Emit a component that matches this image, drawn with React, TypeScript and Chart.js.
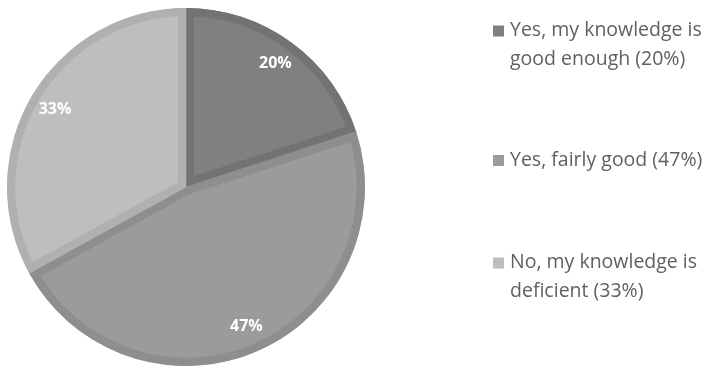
import React, { useEffect, useRef } from "react";
import { Chart, registerables } from "chart.js";

Chart.register(...registerables);

const categories = [
  ["Yes, my knowledge is", "good enough (20%)"],
  ["Yes, fairly good (47%)"],
  ["No, my knowledge is", "deficient (33%)"],
];
const values = [20, 47, 33];
const valueLabels = ["20%", "47%", "33%"];
const fillColors = ["#808080", "#9b9b9b", "#bebebe"];
const borderColors = ["#737373", "#8e8e8e", "#b0b0b0"];

const sliceLabels = {
  id: "sliceLabels",
  afterDatasetsDraw(chart: any) {
    const ctx = chart.ctx;
    const meta = chart.getDatasetMeta(0);
    ctx.save();
    ctx.font = "bold 16px 'Open Sans'";
    ctx.fillStyle = "#ffffff";
    ctx.textAlign = "center";
    ctx.textBaseline = "middle";
    meta.data.forEach((arc: any, i: number) => {
      const p = arc.getProps(["x", "y", "startAngle", "endAngle", "outerRadius"], true);
      const mid = (p.startAngle + p.endAngle) / 2;
      const r = p.outerRadius * 0.85;
      ctx.fillText(valueLabels[i], p.x + Math.cos(mid) * r, p.y + Math.sin(mid) * r);
    });
    ctx.restore();
  },
};

const sideLegend = {
  id: "sideLegend",
  afterDraw(chart: any) {
    const ctx = chart.ctx;
    ctx.save();
    ctx.font = "19.5px 'Open Sans'";
    ctx.textBaseline = "middle";
    ctx.textAlign = "left";
    const x0 = 493;
    const tx = 510;
    const lineH = 29;
    const centers = [45, 160, 277];
    categories.forEach((lines, i) => {
      const top = centers[i] - ((lines.length - 1) * lineH) / 2;
      ctx.fillStyle = fillColors[i];
      ctx.fillRect(x0, top - 5, 11, 11);
      ctx.fillStyle = "#606060";
      lines.forEach((ln, j) => ctx.fillText(ln, tx, top + j * lineH));
    });
    ctx.restore();
  },
};

export default function App() {
  const ref = useRef<HTMLCanvasElement | null>(null);
  useEffect(() => {
    if (!ref.current) return;
    const chart = new Chart(ref.current, {
      type: "pie",
      data: {
        labels: categories.map((c) => c.join(" ")),
        datasets: [
          {
            data: values,
            backgroundColor: fillColors,
            borderColor: borderColors,
            borderWidth: 8,
            borderAlign: "inner",
          },
        ],
      },
      options: {
        animation: false,
        responsive: false,
        rotation: 0,
        layout: { padding: { left: 7, top: 8, right: 347, bottom: 7 } },
        plugins: { legend: { display: false }, tooltip: { enabled: false } },
      },
      plugins: [sliceLabels, sideLegend],
    });
    return () => chart.destroy();
  }, []);
  return (
    <div style={{ position: "fixed", left: 0, top: 0, width: 712, height: 373, background: "#fff" }}>
      <canvas ref={ref} width={712} height={373} />
    </div>
  );
}
